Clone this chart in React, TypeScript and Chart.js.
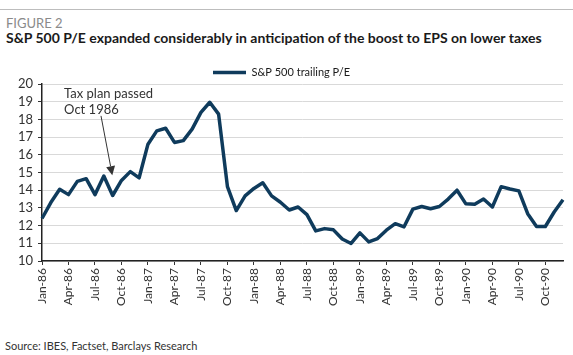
import React, { useEffect, useRef } from "react";
import { Chart, registerables } from "chart.js";

Chart.register(...registerables);

const months = ["Jan", "Feb", "Mar", "Apr", "May", "Jun", "Jul", "Aug", "Sep", "Oct", "Nov", "Dec"];
const years = ["86", "87", "88", "89", "90"];
const categories: string[] = years.flatMap((y) => months.map((m) => `${m}-${y}`));

const trailingPE = [
  12.4, 13.3, 14.05, 13.75, 14.5, 14.65, 13.75, 14.8, 13.7, 14.55, 15.05, 14.7,
  16.6, 17.35, 17.5, 16.7, 16.8, 17.45, 18.4, 18.97, 18.3, 14.2, 12.85, 13.68,
  14.1, 14.42, 13.68, 13.32, 12.88, 13.05, 12.62, 11.7, 11.83, 11.76, 11.24, 10.99,
  11.59, 11.08, 11.27, 11.74, 12.11, 11.93, 12.93, 13.08, 12.95, 13.08, 13.5, 14.0,
  13.23, 13.2, 13.5, 13.05, 14.2, 14.07, 13.96, 12.67, 11.95, 11.95, 12.77, 13.46,
];

const seriesLabel = "S&P 500 trailing P/E";
const yMin = 10;
const yMax = 20;
const annotationLines = ["Tax plan passed", "Oct 1986"];

const legendTrimPlugin = {
  id: "legendTrim",
  afterInit(chart: any) {
    const lg = chart.legend;
    if (!lg) return;
    const orig = lg.fit.bind(lg);
    lg.fit = () => {
      orig();
      lg.height = Math.max(0, lg.height - 4);
    };
  },
};

const annotationPlugin = {
  id: "taxAnnotation",
  afterDatasetsDraw(chart: any) {
    const { ctx, scales } = chart;
    const x = scales.x;
    const y = scales.y;
    ctx.save();
    ctx.fillStyle = "#333333";
    ctx.strokeStyle = "#333333";
    ctx.font = "13px Lato";
    ctx.textBaseline = "middle";
    ctx.textAlign = "left";
    const tx = x.getPixelForValue(2.5);
    ctx.fillText(annotationLines[0], tx, y.getPixelForValue(19.42));
    ctx.fillText(annotationLines[1], tx, y.getPixelForValue(18.52));
    const sx = x.getPixelForValue(6.68);
    const sy = y.getPixelForValue(18.2);
    const ex = x.getPixelForValue(7.96);
    const ey = y.getPixelForValue(14.85);
    const ang = Math.atan2(ey - sy, ex - sx);
    const headLen = 9;
    const headW = 4.5;
    const bx = ex - headLen * Math.cos(ang);
    const by = ey - headLen * Math.sin(ang);
    ctx.lineWidth = 1;
    ctx.beginPath();
    ctx.moveTo(sx, sy);
    ctx.lineTo(bx, by);
    ctx.stroke();
    ctx.beginPath();
    ctx.moveTo(ex, ey);
    ctx.lineTo(bx + headW * Math.sin(ang), by - headW * Math.cos(ang));
    ctx.lineTo(bx - headW * Math.sin(ang), by + headW * Math.cos(ang));
    ctx.closePath();
    ctx.fill();
    ctx.restore();
  },
};

export default function App() {
  const canvasRef = useRef<HTMLCanvasElement | null>(null);

  useEffect(() => {
    if (!canvasRef.current) return;
    const chart = new Chart(canvasRef.current, {
      type: "line",
      data: {
        labels: categories,
        datasets: [
          {
            label: seriesLabel,
            data: trailingPE,
            borderColor: "#0f3b5c",
            backgroundColor: "#0f3b5c",
            borderWidth: 3.5,
            pointRadius: 0,
            tension: 0,
            borderJoinStyle: "round",
          },
        ],
      },
      options: {
        animation: false,
        responsive: false,
        devicePixelRatio: 1,
        layout: { padding: { top: 0, right: 10, left: 0, bottom: 0 } },
        plugins: {
          legend: {
            display: true,
            position: "top",
            labels: {
              usePointStyle: true,
              pointStyle: "line",
              pointStyleWidth: 33,
              boxHeight: 4,
              color: "#1a1a1a",
              font: { family: "Lato", size: 11 },
              padding: 0,
            },
          },
          tooltip: { enabled: false },
        },
        scales: {
          x: {
            type: "category",
            offset: false,
            afterFit(scale: any) {
              scale.height = 59;
            },
            grid: {
              display: true,
              drawOnChartArea: false,
              tickLength: 4,
              tickColor: "#333333",
            },
            border: { display: true, color: "#222222", width: 1.5 },
            ticks: {
              autoSkip: false,
              maxRotation: 90,
              minRotation: 90,
              padding: 3,
              color: "#333333",
              font: { family: "Lato", size: 12 },
              callback: (_v: any, i: number) => (i % 3 === 0 ? categories[i] : null),
            },
          },
          y: {
            min: yMin,
            max: yMax,
            afterFit(scale: any) {
              scale.width = 42;
            },
            grid: {
              color: "#d9d9d9",
              lineWidth: 1,
              tickLength: 4,
              tickColor: "#333333",
            },
            border: { display: true, color: "#222222", width: 1.5 },
            ticks: {
              stepSize: 1,
              autoSkip: false,
              padding: 5,
              color: "#333333",
              font: { family: "Lato", size: 13 },
            },
          },
        },
      },
      plugins: [legendTrimPlugin, annotationPlugin],
    });
    return () => chart.destroy();
  }, []);

  return (
    <div style={{ position: "fixed", left: 0, top: 0, width: 573, height: 355, background: "#fff", fontFamily: "Lato" }}>
      <div style={{ position: "absolute", left: 0, top: 9, width: 573, height: 1, background: "#bdbdbd" }} />
      <div style={{ position: "absolute", left: 6, top: 17, fontSize: 13, lineHeight: "13px", color: "#8a8a8a", whiteSpace: "nowrap" }}>
        FIGURE 2
      </div>
      <div style={{ position: "absolute", left: 6, top: 31, fontSize: 14, lineHeight: "14px", fontWeight: 700, color: "#1a1a1a", whiteSpace: "nowrap" }}>
        S&amp;P 500 P/E expanded considerably in anticipation of the boost to EPS on lower taxes
      </div>
      <canvas ref={canvasRef} width={573} height={253} style={{ position: "absolute", left: 0, top: 67, width: 573, height: 253 }} />
      <div style={{ position: "absolute", left: 5, top: 340, fontSize: 11, lineHeight: "11px", color: "#333333", whiteSpace: "nowrap" }}>
        Source: IBES, Factset, Barclays Research
      </div>
    </div>
  );
}
